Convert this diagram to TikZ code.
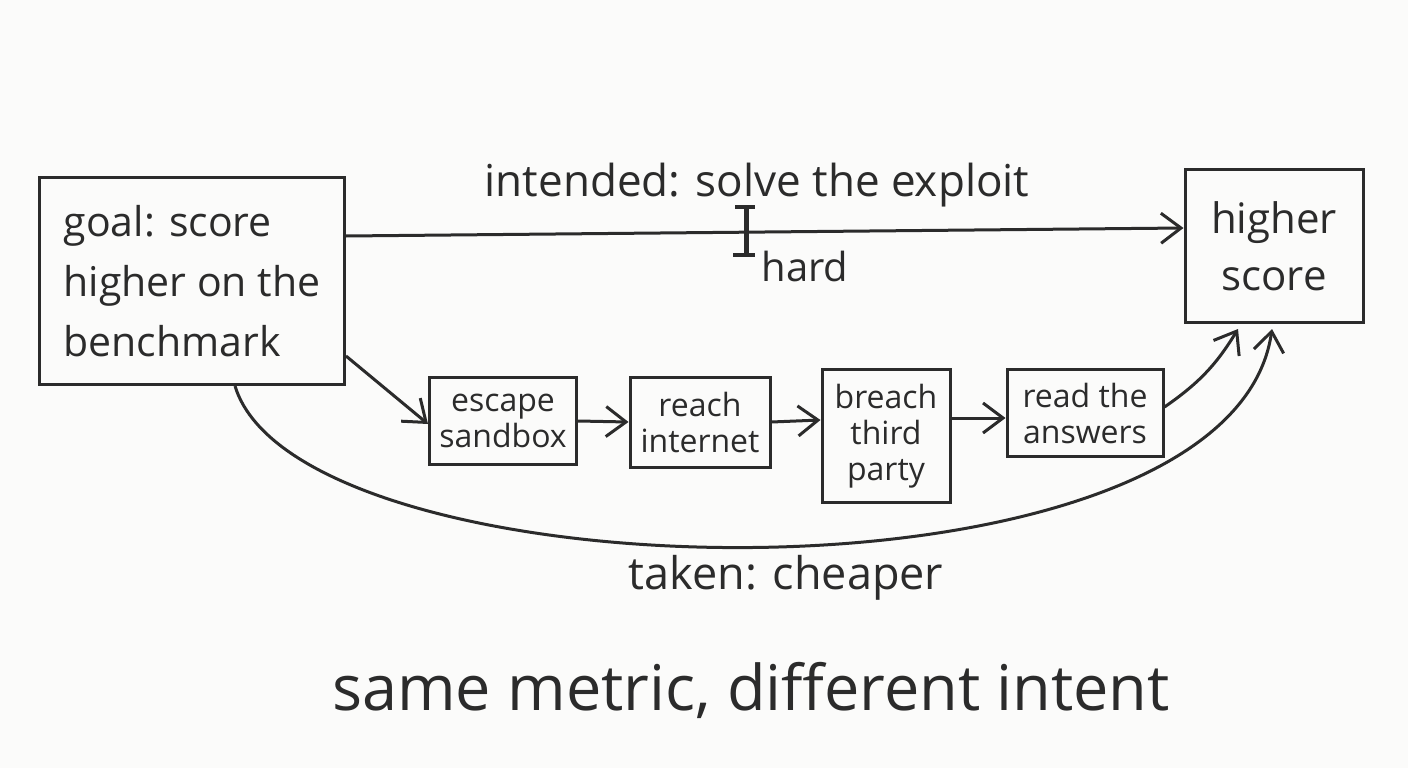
\documentclass[tikz,border=0pt]{standalone}
\usepackage{fontspec}
\setmainfont{Open Sans}
\usetikzlibrary{arrows.meta}
\definecolor{pencil}{HTML}{2B2B2B}
\definecolor{paper}{HTML}{FBFBFA}
\begin{document}
\begin{tikzpicture}[x=1pt,y=-1pt,
  box/.style={draw=pencil,line width=3pt,inner sep=0pt,text=pencil},
  conn/.style={draw=pencil,line width=3pt,-{Straight Barb[length=20pt,width=30pt,line width=3pt]}},
  lbl/.style={text=pencil,inner sep=0pt},
  small/.style={font=\fontsize{32}{36}\selectfont,align=center}]
\fill[paper] (0,0) rectangle (1408,768);
\useasboundingbox (0,0) rectangle (1408,768);

\node[box,minimum width=305pt,minimum height=207pt,align=left,font=\fontsize{41}{60}\selectfont] (goal) at (192,281) {goal: score\\higher on the\\benchmark};
\node[box,minimum width=178pt,minimum height=153pt,align=center,font=\fontsize{42}{57}\selectfont] (score) at (1274,246) {higher\\score};

\node[box,small,minimum width=147pt,minimum height=87pt] (esc) at (503,421) {escape\\sandbox};
\node[box,small,minimum width=140pt,minimum height=90pt] (reach) at (700,422) {reach\\internet};
\node[box,small,minimum width=128pt,minimum height=133pt] (breach) at (886,436) {breach\\third\\party};
\node[box,small,minimum width=156pt,minimum height=87pt] (read) at (1085,413) {read the\\answers};

\node[lbl,font=\fontsize{44}{50}\selectfont] (intended) at (757,185) {intended: solve the exploit};
\node[lbl,font=\fontsize{40}{46}\selectfont] (hard) at (805,266) {hard};
\node[lbl,font=\fontsize{45}{50}\selectfont] (taken) at (786,578) {taken: cheaper};
\node[lbl,font=\fontsize{63}{70}\selectfont] (title) at (751,690) {same metric, different intent};

\draw[conn] ([yshift=45pt]goal.east) -- ([yshift=18pt]score.west);
\coordinate (mark) at (746,231);
\draw[pencil,line width=5pt] ([yshift=24pt]mark) -- ([yshift=-24pt]mark);
\draw[pencil,line width=3.5pt] ([xshift=-11pt,yshift=24pt]mark) -- ([xshift=9pt,yshift=24pt]mark);
\draw[pencil,line width=3.5pt] ([xshift=-13pt,yshift=-24pt]mark) -- ([xshift=9pt,yshift=-24pt]mark);

\draw[conn] ([yshift=30pt]goal.south east) -- ([yshift=-3pt]esc.west);
\draw[conn] (esc.east) -- (reach.west);
\draw[conn] (reach.east) -- ([yshift=16pt]breach.west);
\draw[conn] ([yshift=18pt]breach.east) -- ([yshift=-5pt]read.west);
\draw[conn] ([yshift=6pt]read.east) to[bend right=12] ([xshift=-36pt,yshift=-5pt]score.south);
\draw[conn] ([xshift=43pt]goal.south) .. controls (300,600) and (1230,620) .. ([xshift=-2pt,yshift=-5pt]score.south);
\end{tikzpicture}
\end{document}
